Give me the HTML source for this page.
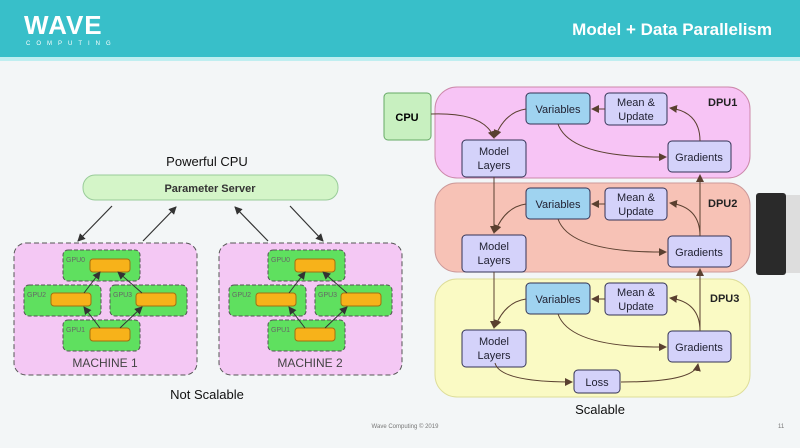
<!DOCTYPE html>
<html><head><meta charset="utf-8"><style>
body{margin:0;width:800px;height:443px;overflow:hidden;background:#f3f6f7;font-family:"Liberation Sans",sans-serif}
</style></head><body>
<svg width="800" height="443" xmlns="http://www.w3.org/2000/svg" font-family="Liberation Sans, sans-serif">
<defs>
<marker id="a" markerWidth="8" markerHeight="8" refX="7" refY="4" orient="auto" markerUnits="userSpaceOnUse"><path d="M0,0 L8,4 L0,8 z" fill="#333"/></marker>
<marker id="b" markerWidth="8" markerHeight="8" refX="7" refY="4" orient="auto" markerUnits="userSpaceOnUse"><path d="M0,0 L8,4 L0,8 z" fill="#5a4030"/></marker>
</defs>
<rect x="0" y="0" width="800" height="57" fill="#38bfc9"/>
<rect x="0" y="57" width="800" height="4" fill="#bfeef0"/>
<text x="24" y="34" font-size="26" fill="#fff" font-weight="bold" letter-spacing="1">WAVE</text>
<text x="26" y="45" font-size="6" fill="#fff" letter-spacing="6">COMPUTING</text>
<text x="772" y="35" font-size="17" fill="#fff" font-weight="bold" text-anchor="end">Model + Data Parallelism</text>

<!-- left -->
<text x="207" y="166" font-size="13" text-anchor="middle" fill="#111">Powerful CPU</text>
<rect x="83" y="175" width="255" height="25" rx="12" fill="#d4f5c8" stroke="#9c9" />
<text x="210" y="192" font-size="11" font-weight="bold" text-anchor="middle" fill="#333">Parameter Server</text>
<g stroke="#333" stroke-width="1.2" marker-end="url(#a)">
<line x1="112" y1="206" x2="78" y2="241"/><line x1="143" y1="241" x2="176" y2="207"/>
<line x1="268" y1="241" x2="235" y2="207"/><line x1="290" y1="206" x2="323" y2="241"/>
</g>
<g id="m">
<rect x="14" y="243" width="183" height="132" rx="12" fill="#f4c8f4" stroke="#555" stroke-dasharray="5,3"/>
<rect x="63" y="250" width="77" height="31" rx="5" fill="#5fe05f" stroke="#555" stroke-dasharray="4,2"/>
<rect x="24" y="285" width="77" height="31" rx="5" fill="#5fe05f" stroke="#555" stroke-dasharray="4,2"/>
<rect x="110" y="285" width="77" height="31" rx="5" fill="#5fe05f" stroke="#555" stroke-dasharray="4,2"/>
<rect x="63" y="320" width="77" height="31" rx="5" fill="#5fe05f" stroke="#555" stroke-dasharray="4,2"/>
<g fill="#f7b21a" stroke="#a07010"><rect x="90" y="259" width="40" height="13" rx="3"/><rect x="51" y="293" width="40" height="13" rx="3"/><rect x="136" y="293" width="40" height="13" rx="3"/><rect x="90" y="328" width="40" height="13" rx="3"/></g>
<g font-size="7" fill="#666"><text x="66" y="262">GPU0</text><text x="27" y="297">GPU2</text><text x="113" y="297">GPU3</text><text x="66" y="332">GPU1</text></g>
<g stroke="#333" marker-end="url(#a)"><line x1="100" y1="328" x2="84" y2="307"/><line x1="120" y1="328" x2="142" y2="307"/><line x1="84" y1="293" x2="100" y2="272"/><line x1="142" y1="293" x2="118" y2="272"/></g>
</g>
<use href="#m" x="205"/>
<text x="105" y="367" font-size="12" text-anchor="middle" fill="#444">MACHINE 1</text>
<text x="310" y="367" font-size="12" text-anchor="middle" fill="#444">MACHINE 2</text>
<text x="207" y="399" font-size="13" text-anchor="middle" fill="#111">Not Scalable</text>

<!-- right -->
<rect x="435" y="87" width="315" height="91" rx="22" fill="#f7c4f5" stroke="#c8a"/>
<rect x="435" y="183" width="315" height="89" rx="22" fill="#f7c2b6" stroke="#c99"/>
<rect x="435" y="279" width="315" height="118" rx="22" fill="#fafac4" stroke="#dd9"/>
<rect x="384" y="93" width="47" height="47" rx="4" fill="#c8f0c0" stroke="#6a6"/>
<text x="407" y="121" font-size="11" font-weight="bold" text-anchor="middle">CPU</text>
<g font-size="11" font-weight="bold" fill="#222"><text x="708" y="106">DPU1</text><text x="708" y="207">DPU2</text><text x="710" y="302">DPU3</text></g>
<g id="d">
<rect x="526" y="93" width="64" height="31" rx="4" fill="#9fd3f0" stroke="#335"/>
<rect x="605" y="93" width="62" height="32" rx="4" fill="#d4d2fa" stroke="#335"/>
<rect x="462" y="140" width="64" height="37" rx="4" fill="#d4d2fa" stroke="#335"/>
<rect x="668" y="141" width="63" height="31" rx="4" fill="#d4d2fa" stroke="#335"/>
<g font-size="11" fill="#223" text-anchor="middle">
<text x="558" y="113">Variables</text><text x="636" y="106">Mean &amp;</text><text x="636" y="120">Update</text>
<text x="494" y="155">Model</text><text x="494" y="169">Layers</text><text x="699" y="161">Gradients</text></g>
<g stroke="#5a4030" fill="none" marker-end="url(#b)">
<line x1="605" y1="109" x2="592" y2="109"/>
<path d="M700,141 Q700,112 670,108"/>
<path d="M558,124 Q570,158 666,157"/>
<path d="M526,109 Q505,112 495,137"/>
</g>
</g>
<use href="#d" y="95"/>
<use href="#d" y="190"/>
<g stroke="#5a4030" fill="none" marker-end="url(#b)">
<path d="M431,114 Q485,112 494,138"/>
<line x1="494" y1="177" x2="494" y2="233"/><line x1="494" y1="272" x2="494" y2="328"/>
<line x1="700" y1="330" x2="700" y2="269"/><line x1="700" y1="236" x2="700" y2="175"/>
<path d="M495,363 Q500,382 572,382"/><path d="M621,382 Q695,382 698,364"/>
</g>
<rect x="574" y="370" width="46" height="23" rx="4" fill="#d4d2fa" stroke="#335"/>
<text x="597" y="386" font-size="11" text-anchor="middle" fill="#223">Loss</text>
<text x="600" y="414" font-size="13" text-anchor="middle" fill="#111">Scalable</text>
<rect x="756" y="193" width="30" height="82" rx="3" fill="#2a2a2a"/>
<rect x="786" y="195" width="14" height="78" fill="#ddd"/>
<text x="405" y="428" font-size="6" text-anchor="middle" fill="#777">Wave Computing © 2019</text>
<text x="778" y="428" font-size="6" fill="#777">11</text>
</svg>
</body></html>
